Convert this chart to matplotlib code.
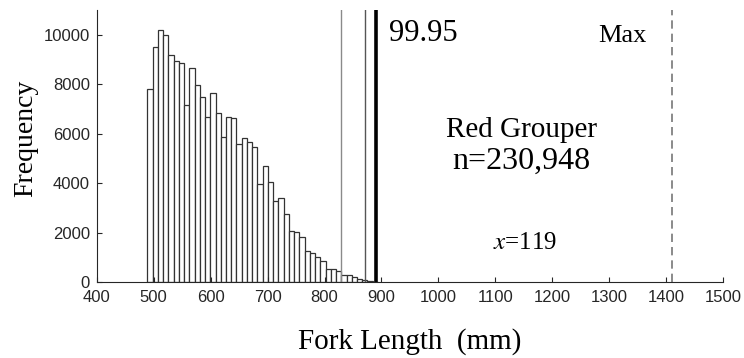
import numpy as np
import matplotlib
matplotlib.use("Agg")
import matplotlib.pyplot as plt

plt.rcParams["mathtext.fontset"] = "stix"

# histogram of fork length, 9.2 mm bins starting at 489 mm
bin_start = 489
bin_width = 9.2
counts = [7800, 9500, 10200, 10000, 9200, 8950, 8870, 7170, 8650, 7970,
          7500, 6680, 7660, 6840, 5880, 6680, 6640, 5590, 5830, 5680,
          5480, 3950, 4710, 4060, 3280, 3410, 2770, 2080, 2020, 1810,
          1270, 1190, 1000, 860, 510, 550, 430, 280, 280, 190,
          120, 80, 40, 20]

# reference lines (mm)
thin_lines = [829, 871]
line_9995 = 891
max_len = 1410

species = "Red Grouper"
n_label = "n=230,948"
mean_label = "$x$=119"

x_ticks = list(range(400, 1501, 100))
y_ticks = list(range(0, 10001, 2000))

serif = "Liberation Serif"
sans = "Liberation Sans"

lefts = bin_start + bin_width * np.arange(len(counts))

fig = plt.figure(figsize=(7.44, 3.58), dpi=100)
ax = fig.add_axes([0.130, 0.212, 0.842, 0.760])

ax.bar(lefts, counts, width=bin_width, align="edge",
       facecolor="white", edgecolor="#333333", linewidth=0.9)

ax.axvline(thin_lines[0], color="#8a8a8a", lw=1.0)
ax.axvline(thin_lines[1], color="#555555", lw=1.0)
ax.axvline(line_9995, color="black", lw=2.6)
ax.axvline(max_len, color="#777777", lw=1.2, ls=(0, (5, 3)))

ax.text(914, 9750, "99.95", family=serif, fontsize=22, ha="left", va="baseline")
ax.text(1281, 9700, "Max", family=serif, fontsize=19, ha="left", va="baseline")
ax.text(1146, 5870, species, family=serif, fontsize=21, ha="center", va="baseline")
ax.text(1146, 4560, n_label, family=serif, fontsize=23, ha="center", va="baseline")
ax.text(1153, 1350, mean_label, family=serif, fontsize=18, ha="center", va="baseline")

ax.set_xlim(400, 1500)
ax.set_ylim(0, 11000)
ax.set_xticks(x_ticks)
ax.set_yticks(y_ticks)
for lab in ax.get_xticklabels() + ax.get_yticklabels():
    lab.set_family(sans)
    lab.set_fontsize(12)
    lab.set_color("#262626")
ax.tick_params(direction="in", length=3.5, width=0.8, colors="#262626")
ax.tick_params(axis="x", pad=6)
ax.tick_params(axis="y", pad=5)

ax.spines["top"].set_visible(False)
ax.spines["right"].set_visible(False)
for s in ["left", "bottom"]:
    ax.spines[s].set_color("#262626")
    ax.spines[s].set_linewidth(0.8)

ax.set_xlabel("Fork Length  (mm)", family=serif, fontsize=21, labelpad=16)
ax.set_ylabel("Frequency", family=serif, fontsize=20)
ax.yaxis.set_label_coords(-0.093, 0.53)

fig.savefig("out.png", dpi=100)
